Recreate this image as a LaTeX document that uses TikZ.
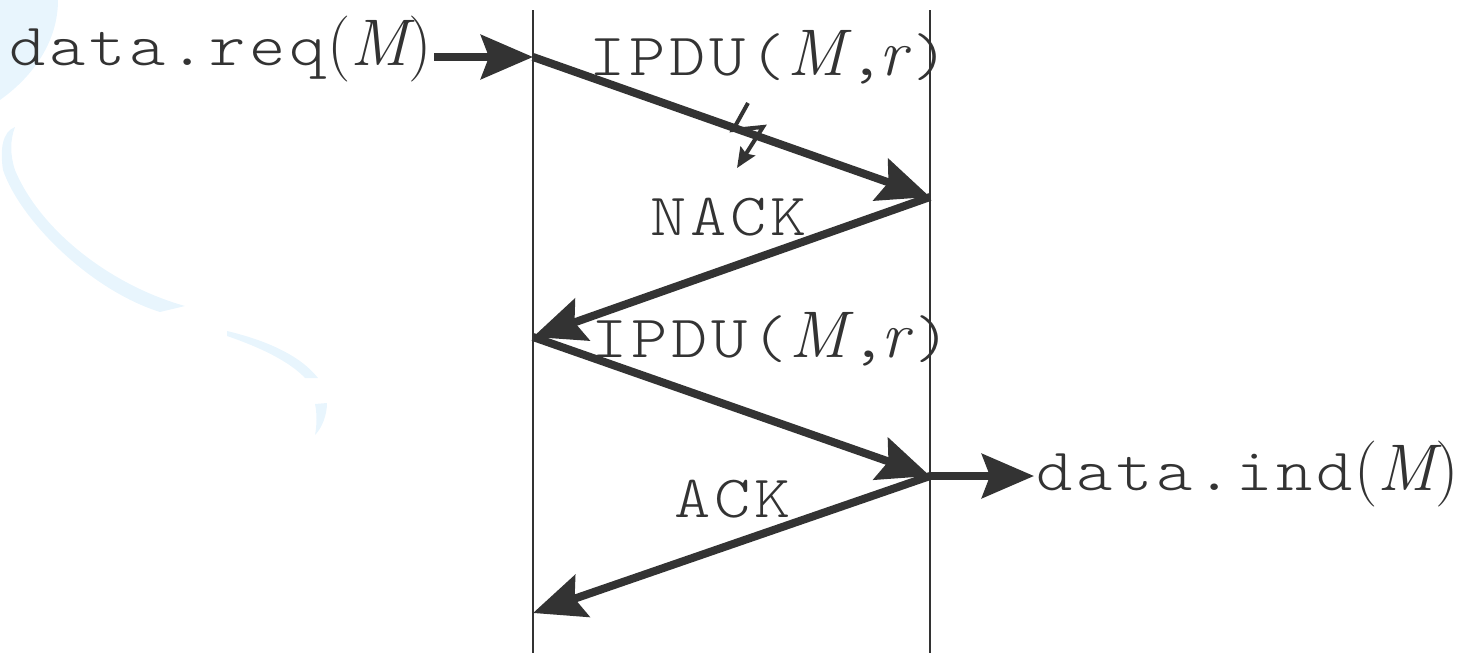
\documentclass[tikz,border=0pt]{standalone}
\usepackage{fontspec}
\usetikzlibrary{arrows.meta}
\newfontfamily\monolt{lmmonolt10-regular.otf}[FakeStretch=1.15]
\definecolor{ink}{RGB}{51,51,51}
\definecolor{wash}{RGB}{232,245,253}
\newlength\pitchlen \setlength\pitchlen{40pt}
\def\monoloop#1{\ifx#1\relax\else\makebox[\pitchlen][c]{#1}\expandafter\monoloop\fi}
\newcommand\mono[1]{{\monolt\fontsize{60}{60}\selectfont\monoloop#1\relax}}
\newcommand\itm[1]{{\rmfamily\itshape\fontsize{66}{66}\selectfont #1}}
\newcommand\rmm[1]{{\rmfamily\fontsize{66}{66}\selectfont #1}}
\begin{document}
\begin{tikzpicture}[x=1pt,y=-1pt,
  lifeline/.style={draw=ink, line width=2.8pt},
  msg/.style={draw=ink, line width=8pt, -{Stealth[length=52pt,width=44pt,inset=8pt]}},
  lbl/.style={anchor=base west, inner sep=0pt, text=ink},
  zap/.style={draw=ink, line width=4pt, -{Stealth[length=20pt,width=17pt,inset=3pt]}}]
\useasboundingbox (0,0) rectangle (1463,653);
% background wash
\fill[wash] (0,0) -- (58,0) .. controls (58,40) and (35,75) .. (0,100) -- cycle;
\fill[wash] (15,127) .. controls (2,132) and (0,150) .. (3,170)
  .. controls (20,220) and (90,290) .. (160,312) -- (185,306)
  .. controls (110,285) and (40,230) .. (15,170)
  .. controls (10,155) and (10,140) .. (15,127) -- cycle;
\fill[wash] (227,331) .. controls (265,340) and (300,355) .. (318,378) -- (305,378)
  .. controls (290,362) and (262,348) .. (227,336) -- cycle;
\fill[wash] (315,404) -- (327,403) .. controls (327,415) and (322,428) .. (315,435)
  .. controls (317,425) and (317,413) .. (315,404) -- cycle;
% lifelines
\coordinate (Ltop) at (533,10); \coordinate (Lbot) at (533,653);
\coordinate (Rtop) at (930,10); \coordinate (Rbot) at (930,653);
\draw[lifeline] (Ltop) -- (Lbot);
\draw[lifeline] (Rtop) -- (Rbot);
% message points
\coordinate (L0) at (533,57);
\coordinate (R1) at (930,197);
\coordinate (L2) at (533,337);
\coordinate (R3) at (930,476);
\coordinate (L4) at (533,613);
% labels
\node[lbl] (req) at (7,65) {\mono{data.req}\rmm{(}\itm{M}\rmm{)}};
\node[lbl] (ind) at (1034,490) {\mono{data.ind}\rmm{(}\itm{M}\rmm{)}};
\node[lbl] (ipdu1) at (587,75) {\mono{IPDU(}\itm{M}\hspace{2pt}\mono{,}\hspace{-8pt}\itm{r}\hspace{4pt}\mono{)}};
\node[lbl] (nack) at (648,235) {\mono{NACK}};
\node[lbl] (ipdu2) at (589,357) {\mono{IPDU(}\itm{M}\hspace{2pt}\mono{,}\hspace{-8pt}\itm{r}\hspace{4pt}\mono{)}};
\node[lbl] (ack) at (672,517) {\mono{ACK}};
% messages
\draw[msg] ([xshift=2pt]req.east |- L0) -- (L0);
\draw[msg] (L0) -- (R1);
\draw[msg] (R1) -- (L2);
\draw[msg] (L2) -- (R3);
\draw[msg] (R3) -- (L4);
\draw[msg] (R3) -- (ind.west |- R3);
% loss symbol
\coordinate (Z1) at (748,103);
\coordinate (Z2) at (733,130);
\coordinate (Z3) at (763,127);
\coordinate (Z4) at (737,168);
\draw[zap] (Z1) -- (Z2) -- (Z3) -- (Z4);
\end{tikzpicture}
\end{document}
